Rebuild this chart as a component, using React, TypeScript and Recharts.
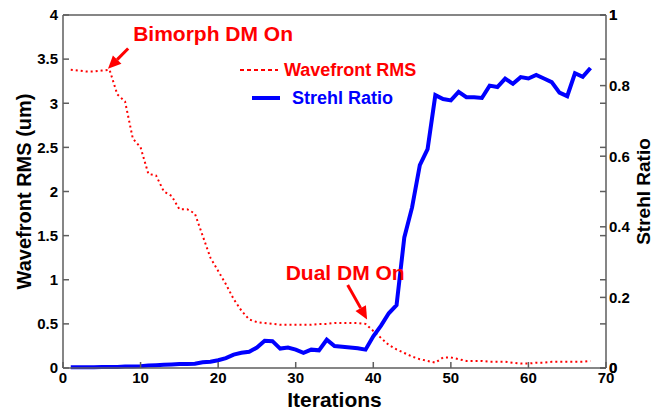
import { LineChart, Line, XAxis, YAxis, Legend, ReferenceLine } from 'recharts'

const iterations = [
  1, 2, 3, 4, 5, 6, 7, 8, 9, 10, 11, 12, 13, 14, 15, 16, 17, 18, 19, 20,
  21, 22, 23, 24, 25, 26, 27, 28, 29, 30, 31, 32, 33, 34, 35, 36, 37, 38, 39, 40,
  41, 42, 43, 44, 45, 46, 47, 48, 49, 50, 51, 52, 53, 54, 55, 56, 57, 58, 59, 60,
  61, 62, 63, 64, 65, 66, 67, 68,
]

const wavefrontRms = [
  3.38, 3.37, 3.36, 3.36, 3.37, 3.38, 3.1, 3.02, 2.6, 2.5, 2.2, 2.18, 2.0, 1.95, 1.8, 1.8, 1.75, 1.5, 1.25, 1.1,
  0.95, 0.78, 0.65, 0.55, 0.52, 0.51, 0.5, 0.49, 0.49, 0.49, 0.49, 0.49, 0.5, 0.5, 0.51, 0.51, 0.51, 0.51, 0.5, 0.42,
  0.34, 0.26, 0.21, 0.17, 0.13, 0.1, 0.08, 0.06, 0.12, 0.12, 0.1, 0.08, 0.08, 0.08, 0.07, 0.07, 0.07, 0.06, 0.05, 0.05,
  0.06, 0.06, 0.07, 0.07, 0.07, 0.07, 0.07, 0.08,
]

const strehlRatio = [
  0.002, 0.002, 0.002, 0.002, 0.003, 0.003, 0.003, 0.004, 0.004, 0.005, 0.007, 0.008, 0.009, 0.01, 0.011, 0.011, 0.012, 0.016, 0.018, 0.022,
  0.028, 0.038, 0.043, 0.046, 0.058, 0.077, 0.076, 0.055, 0.058, 0.052, 0.043, 0.052, 0.05, 0.08, 0.062, 0.06, 0.058, 0.056, 0.052, 0.09,
  0.12, 0.155, 0.178, 0.37, 0.455, 0.575, 0.62, 0.773, 0.762, 0.758, 0.782, 0.767, 0.767, 0.765, 0.8, 0.796, 0.82, 0.805, 0.824, 0.82,
  0.83, 0.82, 0.81, 0.78, 0.77, 0.835, 0.825, 0.85,
]

const xTicks = [0, 10, 20, 30, 40, 50, 60, 70]
const wfTicks = [0, 0.5, 1, 1.5, 2, 2.5, 3, 3.5, 4]
const strehlTicks = [0, 0.2, 0.4, 0.6, 0.8, 1]

const data = iterations.map((it, i) => ({
  iter: it,
  wf: wavefrontRms[i],
  sr: strehlRatio[i],
}))

// right side carries the left axis ticks too (box on), scaled to 0..1
const rightTicks = [...strehlTicks, ...wfTicks.map((t) => t / 4)].sort((a, b) => a - b)
const labelled = new Set(strehlTicks.map((t) => t.toFixed(3)))

const font = '"Liberation Sans", Arial, sans-serif'
const axisStroke = '#5e5e5e'

function RightTick(props: any) {
  const { x, y, payload } = props
  if (!labelled.has(Number(payload.value).toFixed(3))) return <g />
  return (
    <text x={x} y={y} dy="0.36em" textAnchor="start" fontFamily={font} fontWeight="bold" fontSize={15} fill="#000">
      {String(payload.value)}
    </text>
  )
}

function Arrow(props: any) {
  const { x1, y1, x2, y2, text, tx, ty } = props
  const ang = Math.atan2(y2 - y1, x2 - x1)
  const L = 13
  const W = 6
  const bx = x2 - L * Math.cos(ang)
  const by = y2 - L * Math.sin(ang)
  const px = -Math.sin(ang) * W
  const py = Math.cos(ang) * W
  return (
    <g>
      <line x1={x1} y1={y1} x2={bx} y2={by} stroke="#ff0000" strokeWidth={3} />
      <polygon points={`${x2},${y2} ${bx + px},${by + py} ${bx - px},${by - py}`} fill="#ff0000" />
      <text x={x1 + tx} y={y1 + ty} fontFamily={font} fontWeight="bold" fontSize={21} fill="#ff0000" dominantBaseline="central">
        {text}
      </text>
    </g>
  )
}

function LegendBox() {
  return (
    <svg width={210} height={56}>
      <line x1={5} y1={15} x2={43} y2={15} stroke="#ff0000" strokeWidth={2} strokeDasharray="4 3" />
      <text x={49} y={15} dominantBaseline="central" fontFamily={font} fontWeight="bold" fontSize={18} fill="#ff0000">
        Wavefront RMS
      </text>
      <line x1={17} y1={43} x2={45} y2={43} stroke="#0000ff" strokeWidth={4} />
      <text x={57} y={43} dominantBaseline="central" fontFamily={font} fontWeight="bold" fontSize={18} fill="#0000ff">
        Strehl Ratio
      </text>
    </svg>
  )
}

const tickStyle = { fontFamily: font, fontWeight: 'bold', fontSize: 15, fill: '#000' }

export default function App() {
  return (
    <div style={{ position: 'absolute', left: 0, top: 0, background: '#fff' }}>
      <LineChart width={660} height={411} data={data} margin={{ top: 14, right: 0, bottom: 0, left: 0 }}>
        <XAxis
          dataKey="iter"
          type="number"
          domain={[0, 70]}
          ticks={xTicks}
          height={43}
          tickSize={-6}
          tickMargin={10}
          tick={tickStyle}
          stroke={axisStroke}
          strokeWidth={1.5}
          label={{ value: 'Iterations', position: 'insideBottom', offset: 4, style: { fontFamily: font, fontWeight: 'bold', fontSize: 21, fill: '#000' } }}
        />
        <XAxis
          xAxisId="top"
          orientation="top"
          dataKey="iter"
          type="number"
          domain={[0, 70]}
          ticks={xTicks}
          height={1}
          tickSize={-6}
          tick={false}
          stroke={axisStroke}
          strokeWidth={1.5}
        />
        <YAxis
          yAxisId="wf"
          domain={[0, 4]}
          ticks={wfTicks}
          width={63}
          tickSize={-6}
          tickMargin={11}
          tick={tickStyle}
          stroke={axisStroke}
          strokeWidth={1.5}
          label={{ value: 'Wavefront RMS (um)', angle: -90, position: 'insideLeft', offset: 24, style: { textAnchor: 'middle', fontFamily: font, fontWeight: 'bold', fontSize: 20, fill: '#000' } }}
        />
        <YAxis
          yAxisId="sr"
          orientation="right"
          domain={[0, 1]}
          ticks={rightTicks}
          width={54}
          tickSize={-6}
          tickMargin={9}
          tick={<RightTick />}
          stroke={axisStroke}
          strokeWidth={1.5}
          label={{ value: 'Strehl Ratio', angle: -90, position: 'insideRight', offset: 17, style: { textAnchor: 'middle', fontFamily: font, fontWeight: 'bold', fontSize: 19, fill: '#000' } }}
        />
        <Legend
          layout="vertical"
          align="center"
          verticalAlign="middle"
          wrapperStyle={{ left: 235, top: 55, width: 210 }}
          content={() => <LegendBox />}
        />
        <Line
          yAxisId="wf"
          type="linear"
          dataKey="wf"
          stroke="#ff0000"
          strokeWidth={2}
          strokeDasharray="2 3"
          dot={false}
          isAnimationActive={false}
        />
        <Line
          yAxisId="sr"
          type="linear"
          dataKey="sr"
          stroke="#0000ff"
          strokeWidth={4}
          dot={false}
          isAnimationActive={false}
        />
        <ReferenceLine
          yAxisId="wf"
          segment={[{ x: 8.4, y: 3.62 }, { x: 5.8, y: 3.39 }]}
          shape={(p: any) => <Arrow {...p} text="Bimorph DM On" tx={5} ty={-15} />}
        />
        <ReferenceLine
          yAxisId="wf"
          segment={[{ x: 36.7, y: 0.94 }, { x: 39.2, y: 0.55 }]}
          shape={(p: any) => <Arrow {...p} text="Dual DM On" tx={-62} ty={-13} />}
        />
      </LineChart>
    </div>
  )
}
